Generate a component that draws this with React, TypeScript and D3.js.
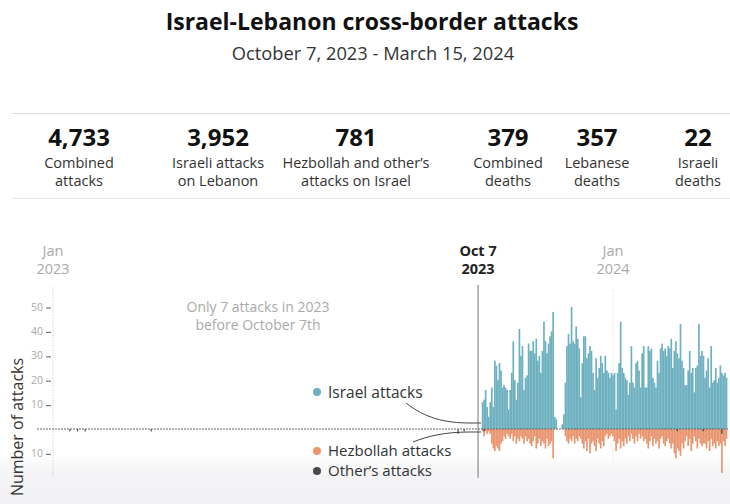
import React from "react";
import * as d3 from "d3";

// ---------- DATA ----------
const seriesStart = "2023-10-08"; // first day of the daily series
const israelAttacks = [
  11, 12, 16, 9, 5, 11, 17, 9, 28, 26, 20, 27, 24, 17, 18, 17, 16, 8, 16, 23,
  36, 20, 12, 19, 41, 30, 34, 16, 21, 22, 35, 32, 32, 36, 31, 37, 28, 30, 23, 32,
  44, 36, 31, 35, 38, 40, 48, 5, 4, 0, 0, 0, 2, 6, 19, 34, 39, 35, 50, 36,
  35, 42, 37, 33, 13, 27, 38, 38, 29, 31, 34, 32, 23, 16, 29, 21, 25, 30, 27, 23,
  30, 24, 23, 21, 23, 22, 23, 8, 23, 27, 44, 25, 23, 21, 20, 14, 19, 34, 19, 17,
  27, 28, 24, 17, 31, 34, 17, 17, 34, 32, 33, 21, 19, 17, 28, 23, 33, 35, 32, 33,
  30, 34, 33, 37, 25, 32, 36, 31, 29, 43, 28, 25, 18, 18, 24, 32, 23, 25, 15, 25,
  26, 43, 30, 32, 30, 21, 24, 29, 17, 34, 19, 20, 25, 19, 21, 26, 23, 22, 23, 21,
];
const hezbollahAttacks = [
  1, 2, 1, 2, 1, 2, 6, 8, 9, 7, 8, 9, 6, 5, 3, 4, 2, 3, 4, 2,
  5, 3, 6, 4, 5, 3, 4, 6, 3, 5, 4, 6, 7, 5, 3, 8, 6, 4, 7, 5,
  6, 8, 4, 7, 6, 5, 12, 0, 0, 0, 0, 0, 0, 0, 3, 5, 6, 4, 5, 3,
  6, 4, 5, 3, 4, 6, 8, 5, 9, 4, 10, 6, 5, 7, 9, 4, 6, 8, 5, 7,
  3, 2, 4, 3, 2, 3, 5, 9, 6, 4, 8, 5, 7, 4, 6, 3, 5, 2, 4, 6,
  3, 5, 2, 4, 3, 5, 4, 6, 8, 5, 3, 7, 4, 6, 5, 8, 4, 3, 6, 7,
  5, 4, 6, 8, 6, 10, 12, 7, 9, 11, 6, 8, 5, 3, 7, 4, 9, 6, 3, 5,
  8, 4, 6, 7, 5, 6, 8, 5, 9, 4, 7, 6, 8, 5, 7, 6, 16, 5, 7, 4,
];
const otherDates = ["2023-10-09", "2024-02-12", "2024-02-29", "2024-03-12"];
const otherCounts = [1, 1, 1, 2];
const preWarDates = ["2023-01-12", "2023-01-17", "2023-01-22", "2023-03-06", "2023-09-22", "2023-09-26"];
const preWarCounts = [1, 1, 1, 1, 2, 1];

const statValues = ["4,733", "3,952", "781", "379", "357", "22"];
const statLabels = [
  ["Combined", "attacks"],
  ["Israeli attacks", "on Lebanon"],
  ["Hezbollah and other\u2019s", "attacks on Israel"],
  ["Combined", "deaths"],
  ["Lebanese", "deaths"],
  ["Israeli", "deaths"],
];
const yTicksUp = [10, 20, 30, 40, 50];
const yTicksDown = [-10];

// ---------- LAYOUT ----------
const W = 730;
const H = 504;
const FONT = "'Open Sans', 'Noto Sans', sans-serif";
const statX = [79, 218, 356, 508, 597, 698];
const C_ISR = "#6db0c0";
const C_HEZ = "#e99670";
const C_OTH = "#4a4a4a";

const parse = d3.timeParse("%Y-%m-%d");
const x = d3
  .scaleTime()
  .domain([new Date(2023, 0, 1), new Date(2024, 0, 1)])
  .range([53, 613]);
const y = d3.scaleLinear().domain([-20, 58]).range([477.8, 287.5]);
const startDate = parse(seriesStart) as Date;
const days = israelAttacks.map((_, i) => d3.timeDay.offset(startDate, i));
const step = x(d3.timeDay.offset(startDate, 1)) - x(startDate);
const bw = step + 0.15;

export default function App() {
  const y0 = y(0);
  const xOct7 = x(new Date(2023, 9, 7)) - 3;
  const xJan23 = x(new Date(2023, 0, 1));
  const xJan24 = x(new Date(2024, 0, 1));
  const otherMap = new Map<number, number>();
  otherDates.forEach((d, i) => otherMap.set((parse(d) as Date).getTime(), otherCounts[i]));

  const israelLink = d3.path();
  israelLink.moveTo(406, 403);
  israelLink.bezierCurveTo(425, 418, 445, 423, 470, 423);
  israelLink.lineTo(481, 423);
  const hezLink = d3.path();
  hezLink.moveTo(413, 442);
  hezLink.bezierCurveTo(428, 436, 445, 432, 470, 432);
  hezLink.lineTo(481, 432);

  return (
    <svg
      width={W}
      height={H}
      style={{ position: "absolute", left: 0, top: 0, background: "#fff" }}
      fontFamily={FONT}
    >
      <defs>
        <linearGradient id="fade" x1="0" y1="0" x2="0" y2="1">
          <stop offset="0" stopColor="#f4f4f6" stopOpacity={0} />
          <stop offset="0.35" stopColor="#f4f4f6" stopOpacity={1} />
          <stop offset="1" stopColor="#f2f2f4" stopOpacity={1} />
        </linearGradient>
      </defs>
      <rect x={0} y={455} width={W} height={H - 455} fill="url(#fade)" />

      {/* Title */}
      <text x={372} y={30} textAnchor="middle" fontSize={23} fontWeight={700} fill="#111">
        Israel-Lebanon cross-border attacks
      </text>
      <text x={373} y={60} textAnchor="middle" fontSize={18.3} fill="#333">
        October 7, 2023 - March 15, 2024
      </text>

      {/* Stats */}
      <line x1={12} x2={730} y1={113.5} y2={113.5} stroke="#dcdcdc" />
      <line x1={12} x2={730} y1={198.5} y2={198.5} stroke="#e8e8e8" />
      {statValues.map((v, i) => (
        <g key={v}>
          <text x={statX[i]} y={146} textAnchor="middle" fontSize={24} fontWeight={700} fill="#111">
            {v}
          </text>
          <text x={statX[i]} y={168} textAnchor="middle" fontSize={14.5} fill="#333">
            {statLabels[i][0]}
          </text>
          <text x={statX[i]} y={186} textAnchor="middle" fontSize={14.5} fill="#333">
            {statLabels[i][1]}
          </text>
        </g>
      ))}

      {/* Time labels */}
      <text x={xJan23} y={256} textAnchor="middle" fontSize={14.5} fill="#aaa">Jan</text>
      <text x={xJan23} y={274} textAnchor="middle" fontSize={14.5} fill="#aaa">2023</text>
      <text x={xJan24} y={256} textAnchor="middle" fontSize={14.5} fill="#aaa">Jan</text>
      <text x={xJan24} y={274} textAnchor="middle" fontSize={14.5} fill="#aaa">2024</text>
      <text x={xOct7} y={256} textAnchor="middle" fontSize={14.5} fontWeight={700} fill="#222">Oct 7</text>
      <text x={xOct7} y={274} textAnchor="middle" fontSize={14.5} fontWeight={700} fill="#222">2023</text>

      {/* Gridlines */}
      <line x1={xJan23} x2={xJan23} y1={y(58)} y2={y(-20)} stroke="#c8c8c8" strokeDasharray="1,1.5" />
      <line x1={xJan24} x2={xJan24} y1={y(57)} y2={y(-15)} stroke="#dedede" strokeDasharray="1,1.5" />
      <line x1={xOct7} x2={xOct7} y1={y(59)} y2={y(-20)} stroke="#8a8a8a" strokeWidth={1.2} />

      {/* Y axis ticks */}
      {[...yTicksUp, ...yTicksDown].map((t) => (
        <g key={t}>
          <text x={43} y={y(t) + 3.5} textAnchor="end" fontSize={10.5} fill="#aaa">
            {Math.abs(t)}
          </text>
          <line x1={46} x2={51} y1={y(t) + 1} y2={y(t) + 1} stroke="#777" strokeWidth={1.2} />
        </g>
      ))}
      <text
        transform={`translate(23, ${y(0) - 2}) rotate(-90)`}
        textAnchor="middle"
        fontSize={16}
        fill="#333"
      >
        Number of attacks
      </text>

      {/* Annotation */}
      <text x={258} y={312} textAnchor="middle" fontSize={14} fill="#aaa">Only 7 attacks in 2023</text>
      <text x={258} y={330} textAnchor="middle" fontSize={14} fill="#aaa">before October 7th</text>

      {/* Bars */}
      {days.map((d, i) => {
        const xi = x(d) - bw / 2;
        const oth = otherMap.get(d.getTime()) || 0;
        return (
          <g key={i}>
            {israelAttacks[i] > 0 && (
              <rect x={xi} y={y(israelAttacks[i])} width={bw} height={y0 - y(israelAttacks[i])} fill={C_ISR} />
            )}
            {hezbollahAttacks[i] > 0 && (
              <rect
                x={xi}
                y={y(-oth)}
                width={bw}
                height={y(-oth - hezbollahAttacks[i]) - y(-oth)}
                fill={C_HEZ}
              />
            )}
            {oth > 0 && <rect x={xi} y={y0} width={bw} height={y(-oth) - y0} fill={C_OTH} />}
          </g>
        );
      })}
      {preWarDates.map((ds, i) => {
        const d = parse(ds) as Date;
        return (
          <rect
            key={ds}
            x={x(d) - 0.6}
            y={y0}
            width={1.2}
            height={y(-preWarCounts[i]) - y0}
            fill={C_OTH}
          />
        );
      })}

      {/* Zero line */}
      <line x1={37} x2={728} y1={y0} y2={y0} stroke="#666" strokeDasharray="2,1" strokeWidth={1} />

      {/* Legend */}
      <path d={israelLink.toString()} fill="none" stroke="#444" strokeWidth={1} />
      <path d={hezLink.toString()} fill="none" stroke="#444" strokeWidth={1} />
      <circle cx={317} cy={392} r={4} fill={C_ISR} />
      <text x={328} y={397.5} fontSize={15.5} fill="#333">Israel attacks</text>
      <circle cx={317} cy={451} r={4} fill={C_HEZ} />
      <text x={328} y={456} fontSize={15} fill="#333">Hezbollah attacks</text>
      <circle cx={317} cy={471} r={4} fill={C_OTH} />
      <text x={328} y={476} fontSize={15} fill="#333">Other{"\u2019"}s attacks</text>
    </svg>
  );
}
